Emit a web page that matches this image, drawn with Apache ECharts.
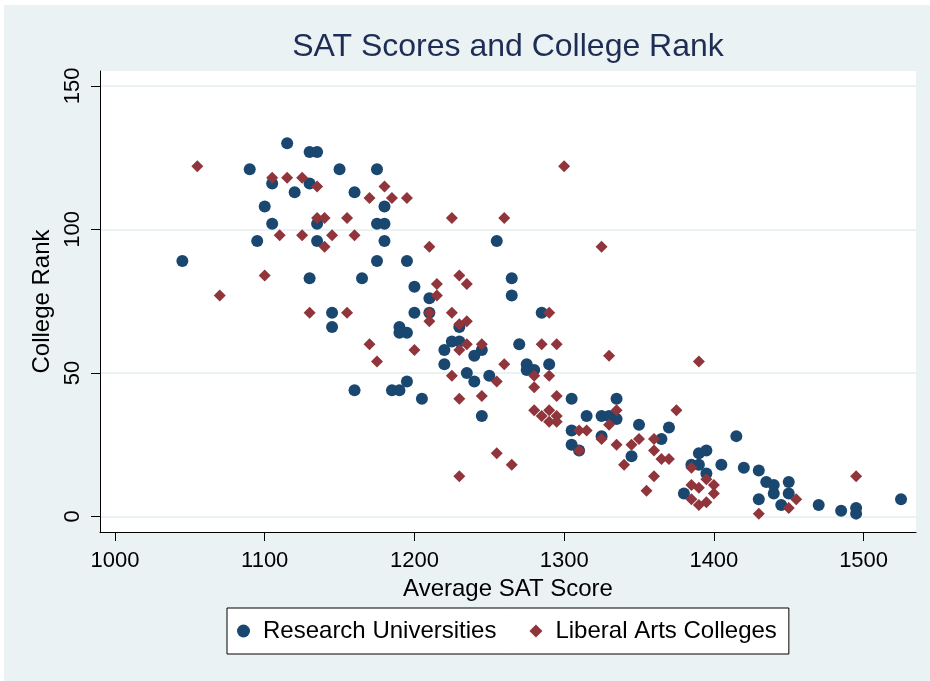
<!DOCTYPE html>
<html>
<head>
<meta charset="utf-8">
<script src="https://cdn.jsdelivr.net/npm/echarts@6/dist/echarts.min.js"></script>
<style>
html,body{margin:0;padding:0;background:#fff;}
#c{width:930px;height:681px;}
</style>
</head>
<body>
<div id="c"></div>
<script>
const chartTitle = "SAT Scores and College Rank";
const xTitle = "Average SAT Score";
const yTitle = "College Rank";
const seriesNames = ["Research Universities", "Liberal Arts Colleges"];
const xTicks = [1000, 1100, 1200, 1300, 1400, 1500];
const yTicks = [0, 50, 100, 150];

const researchSAT = [1045,1090,1095,1100,1105,1115,1120,1105,1130,1135,1130,1135,1135,1130,1150,1160,1165,1175,1180,1175,1180,1180,1175,1195,1200,1145,1145,1200,1190,1190,1195,1160,1185,1190,1195,1205,1210,1210,1230,1265,1265,1255,1285,1225,1230,1245,1220,1240,1220,1270,1275,1275,1280,1290,1235,1240,1250,1245,1305,1315,1305,1325,1330,1335,1335,1325,1305,1310,1350,1345,1370,1365,1415,1390,1395,1385,1390,1395,1405,1380,1420,1430,1435,1440,1440,1450,1450,1430,1445,1470,1485,1495,1495,1525];
const researchRank = [89,121,96,108,116,130,113,102,127,127,116,102,96,83,121,113,83,121,108,102,102,96,89,89,80,71,66,71,66,64,64,44,44,44,47,41,76,71,66,83,77,96,71,61,61,58,58,56,53,60,53,51,51,53,50,47,49,35,41,35,30,35,35,34,41,28,25,23,32,21,31,27,28,22,23,18,18,15,18,8,17,16,12,11,8,12,8,6,4,4,2,3,1,6];

const libSAT = [1055,1070,1100,1105,1115,1125,1135,1110,1125,1135,1140,1140,1145,1155,1160,1130,1155,1180,1170,1185,1195,1170,1175,1200,1300,1225,1260,1210,1325,1230,1235,1215,1215,1210,1210,1225,1290,1230,1235,1235,1230,1245,1285,1295,1330,1260,1225,1255,1280,1290,1280,1230,1245,1295,1280,1290,1285,1290,1295,1295,1310,1315,1335,1330,1325,1310,1335,1350,1345,1340,1360,1360,1360,1355,1255,1265,1230,1390,1375,1365,1370,1385,1395,1385,1390,1400,1400,1385,1390,1395,1455,1450,1430,1495];
const libRank = [122,77,84,118,118,118,115,98,98,104,104,94,98,104,98,71,71,115,111,111,111,60,54,58,122,104,104,94,94,84,81,81,77,71,68,71,71,67,68,60,58,60,60,60,56,53,49,47,49,49,45,41,42,42,37,37,35,33,35,33,30,30,37,32,27,23,25,27,25,18,27,23,14,9,22,18,14,54,37,20,20,17,13,11,10,11,8,6,4,5,6,3,1,14];

const FONT = "'Liberation Sans', Arial, sans-serif";
const NAVY = '#1a476f';
const MAROON = '#90353b';

function pairs(xs, ys){ return xs.map((x,i)=>[x, ys[i]]); }

const chart = echarts.init(document.getElementById('c'), null, {renderer:'canvas'});
chart.setOption({
  animation: false,
  backgroundColor: '#eaf2f3',
  graphic: [
    {type: 'rect', shape: {x: 0, y: 0, width: 930, height: 5}, style: {fill: '#ffffff'}, silent: true},
    {type: 'rect', shape: {x: 0, y: 0, width: 4, height: 681}, style: {fill: '#ffffff'}, silent: true},
    {type: 'text', x: 508, y: 47,
     style: {text: chartTitle, textAlign: 'center', textVerticalAlign: 'middle',
             fontFamily: FONT, fontSize: 32, fill: '#1e2d53'}}
  ],
  grid: {left: 100, right: 14, top: 71, bottom: 149, show: true,
         backgroundColor: '#ffffff', borderWidth: 0, containLabel: false},
  xAxis: {
    type: 'value', min: 990, max: 1535,
    name: xTitle, nameLocation: 'middle', nameGap: 37,
    nameTextStyle: {fontFamily: FONT, fontSize: 24, color: '#000'},
    axisLine: {show: true, onZero: false, lineStyle: {color: '#000', width: 1}},
    axisTick: {show: true, length: 9, lineStyle: {color: '#000'}, customValues: xTicks},
    axisLabel: {fontFamily: FONT, fontSize: 22, color: '#000', margin: 18, customValues: xTicks,
                formatter: v => String(v)},
    splitLine: {show: false}
  },
  yAxis: {
    type: 'value', min: -5.4, max: 155.2,
    name: yTitle, nameLocation: 'middle', nameGap: 42, nameRotate: 90,
    nameTextStyle: {fontFamily: FONT, fontSize: 24, color: '#000'},
    axisLine: {show: true, onZero: false, lineStyle: {color: '#000', width: 1}},
    axisTick: {show: true, length: 9, lineStyle: {color: '#000'}, customValues: yTicks},
    axisLabel: {fontFamily: FONT, fontSize: 22, color: '#000', margin: 16, rotate: 90, customValues: yTicks,
                formatter: v => String(v)},
    splitLine: {show: true, lineStyle: {color: '#eaf2f3', width: 2}}
  },
  legend: {
    left: 227, top: 608, orient: 'horizontal',
    backgroundColor: '#fff', borderColor: '#000', borderWidth: 1,
    padding: [11, 12, 11, 10], itemGap: 33, itemWidth: 13, itemHeight: 13,
    textStyle: {fontFamily: FONT, fontSize: 24, color: '#000', padding: [0, 0, 0, 8]},
    data: [{name: seriesNames[0], icon: 'circle'}, {name: seriesNames[1], icon: 'diamond'}]
  },
  series: [
    {name: seriesNames[0], type: 'scatter', symbol: 'circle', symbolSize: 12,
     itemStyle: {color: NAVY, opacity: 1}, data: pairs(researchSAT, researchRank)},
    {name: seriesNames[1], type: 'scatter', symbol: 'diamond', symbolSize: 12,
     itemStyle: {color: MAROON, opacity: 1}, data: pairs(libSAT, libRank)}
  ]
});
</script>
</body>
</html>
